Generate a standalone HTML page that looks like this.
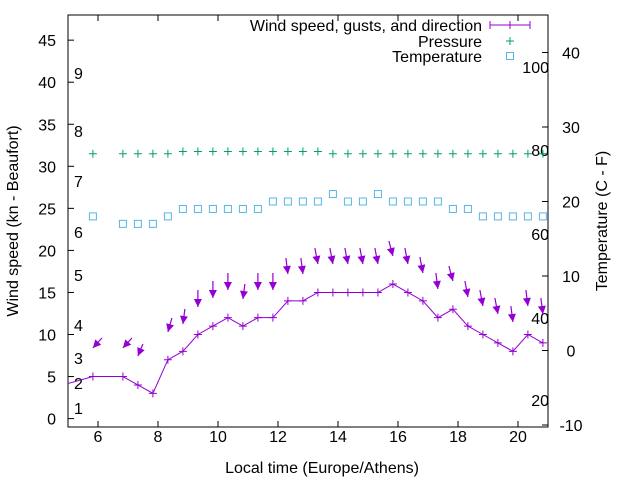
<!DOCTYPE html>
<html><head><meta charset="utf-8"><style>
html,body{margin:0;padding:0;background:#fff}
svg{display:block}
text{font-family:"Liberation Sans",sans-serif;font-size:16px;fill:#000}
</style></head><body>
<svg width="640" height="480" xmlns="http://www.w3.org/2000/svg">
<defs>
<clipPath id="c"><rect x="68" y="15" width="480" height="412"/></clipPath>
<marker id="ah" viewBox="0 0 10 10" refX="10" refY="5" markerWidth="9" markerHeight="8" orient="auto" markerUnits="userSpaceOnUse"><path d="M0,0L10,5L0,10z" fill="#9400d3"/></marker>
</defs>
<rect x="68" y="15" width="480" height="412" fill="none" stroke="#000" stroke-width="1"/>
<g stroke="#000" stroke-width="1" id="ticks"></g>
<g id="labels"></g>
<text x="322" y="473" text-anchor="middle">Local time (Europe/Athens)</text>
<text transform="translate(18,221) rotate(-90)" text-anchor="middle">Wind speed (kn - Beaufort)</text>
<text transform="translate(607,221) rotate(-90)" text-anchor="middle">Temperature (C - F)</text>
<g text-anchor="end">
<text x="482" y="31">Wind speed, gusts, and direction</text>
<text x="482" y="47">Pressure</text>
<text x="482" y="62">Temperature</text>
</g>
<g stroke="#9400d3" stroke-width="1"><line x1="490" y1="25" x2="530" y2="25"/><line x1="490" y1="21" x2="490" y2="29"/><line x1="530" y1="21" x2="530" y2="29"/><line x1="510" y1="21" x2="510" y2="29"/></g>
<g stroke="#009e73"><line x1="506" y1="41" x2="514" y2="41"/><line x1="510" y1="37" x2="510" y2="45"/></g>
<rect x="506.5" y="52.5" width="7" height="7" fill="none" stroke="#56b4e9"/>
<g id="data" clip-path="url(#c)"></g>
<script>
const S='http://www.w3.org/2000/svg';
function el(p,n,a,t){const e=document.createElementNS(S,n);for(const k in a)e.setAttribute(k,a[k]);if(t!==undefined)e.textContent=t;document.getElementById(p).appendChild(e);return e;}
const X=h=>68+(h-5)*30, Y=v=>418.6-v*8.41, Y2=v=>350.5-v*7.45;
for(let h=6;h<=20;h+=2){el('ticks','line',{x1:X(h),y1:427,x2:X(h),y2:421});el('ticks','line',{x1:X(h),y1:15,x2:X(h),y2:21});el('labels','text',{x:X(h),y:442,'text-anchor':'middle'},h);}
for(let v=0;v<=45;v+=5){el('ticks','line',{x1:68,y1:Y(v),x2:74,y2:Y(v)});el('labels','text',{x:56,y:Y(v)+6,'text-anchor':'end'},v);}
for(let v=-10;v<=40;v+=10){el('ticks','line',{x1:548,y1:Y2(v),x2:542,y2:Y2(v)});el('labels','text',{x:571,y:Y2(v)+6,'text-anchor':'middle'},v);}
[[9,79],[8,137],[7,187],[6,238],[5,281],[4,331],[3,364],[2,389],[1,414]].forEach(a=>el('labels','text',{x:74,y:a[1]},a[0]));
[[100,73],[80,156],[60,240],[40,324],[20,406]].forEach(a=>el('labels','text',{x:549,y:a[1],'text-anchor':'end'},a[0]));
const T=[4.83,5.83,6.83,7.33,7.83,8.33,8.83,9.33,9.83,10.33,10.83,11.33,11.83,12.33,12.83,13.33,13.83,14.33,14.83,15.33,15.83,16.33,16.83,17.33,17.83,18.33,18.83,19.33,19.83,20.33,20.83];
const W=[4,5,5,4,3,7,8,10,11,12,11,12,12,14,14,15,15,15,15,15,16,15,14,12,13,11,10,9,8,10,9];
el('data','polyline',{points:T.map((t,i)=>X(t)+','+Y(W[i])).join(' '),fill:'none',stroke:'#9400d3','stroke-width':1});
T.forEach((t,i)=>{const x=X(t),y=Y(W[i]);el('data','path',{d:`M${x-4},${y}h8M${x},${y-4}v8`,stroke:'#9400d3','stroke-width':1});});
const G=[[5.83,348,9,-10],[6.83,348,9,-10],[7.33,356,5,-12],[8.33,332,4,-14],[8.83,324,2,-15],[9.33,307,0,-17],[9.83,298,0,-17],[10.33,290,0,-17],[10.83,299,2,-15],[11.33,290,0,-17],[11.83,290,0,-17],[12.33,274,-2,-16],[12.83,274,-2,-16],[13.33,264,-3,-16],[13.83,264,-3,-16],[14.33,264,-3,-16],[14.83,264,-3,-16],[15.33,264,-3,-16],[15.83,256,-4,-15],[16.33,264,-3,-16],[16.83,273,-3,-16],[17.33,289,-2,-16],[17.83,281,-4,-15],[18.33,297,-3,-16],[18.83,306,-3,-16],[19.33,314,-3,-16],[19.83,322,-2,-16],[20.33,306,-2,-16],[20.83,314,-2,-16]];
G.forEach(g=>{const x=X(g[0]);el('data','line',{x1:x+g[2],y1:g[1]+g[3],x2:x,y2:g[1],stroke:'#9400d3','stroke-width':1.2,'marker-end':'url(#ah)'});});
const PT=[5.83,6.83,7.33,7.83,8.33];for(let t=8.83;t<21;t+=0.5)PT.push(t);
PT.forEach(t=>{const x=X(t),y=(t>8.5&&t<13.5)?151.5:153.7;el('data','path',{d:`M${x-4},${y}h8M${x},${y-4}v8`,stroke:'#009e73','stroke-width':1});});
const TV={5.83:18,6.83:17,7.33:17,7.83:17,8.33:18};
const seq=[19,19,19,19,19,19,20,20,20,20,21,20,20,21,20,20,20,20,19,19,18,18,18,18,18];
let t=8.83;seq.forEach(v=>{TV[t.toFixed(2)]=v;t+=0.5;});
for(const k in TV){const x=X(+k),y=Y2(TV[k]);el('data','rect',{x:x-3.5,y:y-3.5,width:7,height:7,fill:'none',stroke:'#56b4e9','stroke-width':1});}
</script>
</svg>
</body></html>
